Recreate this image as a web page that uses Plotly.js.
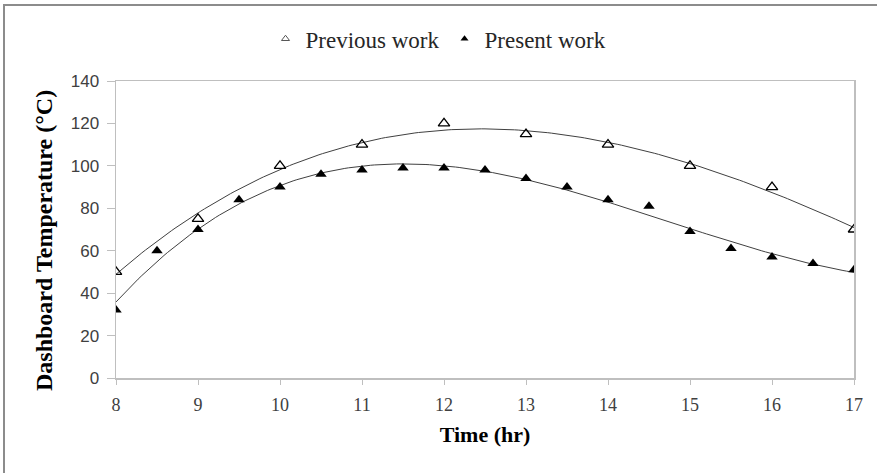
<!DOCTYPE html>
<html>
<head>
<meta charset="utf-8">
<script src="https://cdn.plot.ly/plotly-3.0.1.min.js"></script>
<style>
html,body{margin:0;padding:0;background:#fff;}
#wrap{position:relative;width:877px;height:473px;overflow:hidden;}
#frame{position:absolute;left:3px;top:4px;width:900px;height:500px;border-left:2px solid #8c8c8c;border-top:2px solid #8c8c8c;pointer-events:none;}
#chart{position:absolute;left:0;top:0;width:877px;height:473px;}
</style>
</head>
<body>
<div id="wrap"><div id="chart"></div><div id="frame"></div></div>
<script>
// Data
const prevTime = [8, 9, 10, 11, 12, 13, 14, 15, 16, 17];
const prevTemp = [50, 75, 100, 110, 120, 115, 110, 100, 90, 70];
const presTime = [8, 8.5, 9, 9.5, 10, 10.5, 11, 11.5, 12, 12.5, 13, 13.5, 14, 14.5, 15, 15.5, 16, 16.5, 17];
const presTemp = [32, 60, 70, 84, 90, 96, 98, 99, 99, 98, 94, 90, 84, 81, 69, 61, 57, 54, 51];
const xTicks = [8, 9, 10, 11, 12, 13, 14, 15, 16, 17];
const yTicks = [0, 20, 40, 60, 80, 100, 120, 140];

// Least-squares polynomial trendline (like spreadsheet polynomial trendline)
function polyfit(xs, ys, order) {
  const n = order + 1;
  const A = [];
  for (let i = 0; i < n; i++) {
    A.push(new Array(n + 1).fill(0));
  }
  for (let k = 0; k < xs.length; k++) {
    for (let i = 0; i < n; i++) {
      for (let j = 0; j < n; j++) A[i][j] += Math.pow(xs[k], i + j);
      A[i][n] += ys[k] * Math.pow(xs[k], i);
    }
  }
  for (let i = 0; i < n; i++) {
    let p = i;
    for (let r = i + 1; r < n; r++) if (Math.abs(A[r][i]) > Math.abs(A[p][i])) p = r;
    [A[i], A[p]] = [A[p], A[i]];
    for (let r = 0; r < n; r++) {
      if (r === i) continue;
      const f = A[r][i] / A[i][i];
      for (let c = i; c <= n; c++) A[r][c] -= f * A[i][c];
    }
  }
  return A.map((row, i) => row[n] / row[i]);
}
function trend(xs, ys, order) {
  const c = polyfit(xs, ys, order);
  const tx = [], ty = [];
  const x0 = Math.min(...xs), x1 = Math.max(...xs);
  for (let i = 0; i <= 200; i++) {
    const x = x0 + (x1 - x0) * i / 200;
    let y = 0;
    for (let k = 0; k < c.length; k++) y += c[k] * Math.pow(x, k);
    tx.push(x); ty.push(y);
  }
  return {x: tx, y: ty};
}
const prevFit = trend(prevTime, prevTemp, 3);
const presFit = trend(presTime, presTemp, 3);

const serif = 'Liberation Serif, Times New Roman, serif';
const traces = [
  {x: prevFit.x, y: prevFit.y, mode: 'lines', line: {color: '#404040', width: 1}, showlegend: false, hoverinfo: 'skip'},
  {x: presFit.x, y: presFit.y, mode: 'lines', line: {color: '#404040', width: 1}, showlegend: false, hoverinfo: 'skip'},
  {x: prevTime, y: prevTemp, mode: 'markers', name: 'Previous work', showlegend: false,
   marker: {symbol: 'triangle-up-open', size: 10, color: '#000', line: {color: '#000', width: 1.3}}},
  {x: presTime, y: presTemp, mode: 'markers', name: 'Present work', showlegend: false,
   marker: {symbol: 'triangle-up', size: 10, color: '#000'}},
  // legend entries (smaller symbols, as in the original legend)
  {x: [null], y: [null], mode: 'markers', name: 'Previous work',
   marker: {symbol: 'triangle-up-open', size: 7, color: '#555', line: {color: '#555', width: 1}}},
  {x: [null], y: [null], mode: 'markers', name: 'Present work',
   marker: {symbol: 'triangle-up', size: 7, color: '#000'}}
];

const layout = {
  width: 877, height: 473,
  margin: {l: 116, r: 23, t: 81, b: 95},
  paper_bgcolor: '#fff', plot_bgcolor: '#fff',
  showlegend: true,
  legend: {orientation: 'h', xref: 'container', yref: 'container', x: 0.50, y: 0.918,
           xanchor: 'center', yanchor: 'middle',
           font: {family: serif, size: 23, color: '#262626'},
           itemwidth: 30, tracegroupgap: 0},
  xaxis: {
    range: [8, 17], tickvals: xTicks, ticktext: xTicks.map(String),
    showgrid: false, zeroline: false,
    showline: true, linecolor: '#bfbfbf', linewidth: 1.5, mirror: true,
    ticks: 'outside', ticklen: 5, tickcolor: '#bfbfbf', tickwidth: 1,
    ticklabelstandoff: 5,
    tickfont: {family: serif, size: 18, color: '#404040'},
    title: {text: 'Time (hr)', standoff: 12,
            font: {family: serif, size: 22, color: '#000', weight: 'bold'}}
  },
  yaxis: {
    range: [0, 140], tickvals: yTicks, ticktext: yTicks.map(String),
    showgrid: false, zeroline: false,
    showline: true, linecolor: '#bfbfbf', linewidth: 1.5, mirror: true,
    ticks: 'outside', ticklen: 8, tickcolor: '#bfbfbf', tickwidth: 1,
    ticklabelstandoff: 4,
    tickfont: {family: 'Liberation Sans, Arial, sans-serif', size: 17, color: '#404040'}
  },
  annotations: [{
    text: 'Dashboard Temperature (°C)', textangle: -90, showarrow: false,
    xref: 'paper', yref: 'paper', x: (44 - 116) / 738, y: (378 - 241) / 297,
    xanchor: 'center', yanchor: 'middle',
    font: {family: serif, size: 24, color: '#000', weight: 'bold'}
  }]
};

Plotly.newPlot('chart', traces, layout, {displayModeBar: false, staticPlot: true});
</script>
</body>
</html>
